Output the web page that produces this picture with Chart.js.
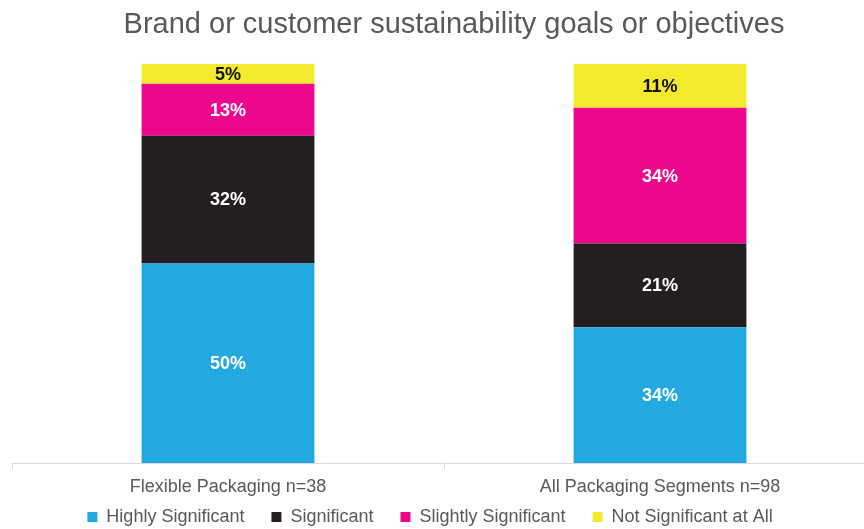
<!DOCTYPE html>
<html>
<head>
<meta charset="utf-8">
<script src="https://cdn.jsdelivr.net/npm/chart.js@4/dist/chart.umd.min.js"></script>
<style>
  html, body { margin: 0; padding: 0; background: #fff; overflow: hidden; }
  /* the axis runs a little past the right edge of the window */
  #wrap { width: 876px; height: 529px; position: relative; }
</style>
</head>
<body>
<div id="wrap"><canvas id="chart"></canvas></div>
<script>
  // Survey answers, percent of respondents per segment
  const segments = ["Flexible Packaging n=38", "All Packaging Segments n=98"];
  const highlySignificant = [50, 34];
  const significant = [32, 21];
  const slightlySignificant = [13, 34];
  const notSignificant = [5, 11];

  const FONT = "'Liberation Sans', Arial, Helvetica, sans-serif";
  const GREY = "#595959";

  // Percent labels in the middle of every stacked segment
  const segmentLabels = {
    id: "segmentLabels",
    afterDatasetsDraw(chart) {
      const ctx = chart.ctx;
      ctx.save();
      ctx.font = "bold 18px " + FONT;
      ctx.textAlign = "center";
      ctx.textBaseline = "middle";
      chart.data.datasets.forEach((ds, i) => {
        const meta = chart.getDatasetMeta(i);
        meta.data.forEach((bar, j) => {
          const c = bar.getCenterPoint();
          ctx.fillStyle = ds.labelColor;
          ctx.fillText(ds.data[j] + "%", c.x, c.y + 1);
        });
      });
      ctx.restore();
    },
  };

  // Title sits a little right of centre, legend a little left.
  // The x axis is squeezed during fit so the bars reach further down;
  // give its box the room back so the category labels are not clipped.
  const nudge = {
    id: "nudge",
    afterLayout(chart) {
      chart.titleBlock.left += 10;
      chart.titleBlock.right += 10;
      chart.legend.left -= 14;
      chart.legend.right -= 14;
      const x = chart.scales.x;
      x.height = 40;
      x.bottom = x.top + 40;
    },
  };

  new Chart(document.getElementById("chart"), {
    type: "bar",
    data: {
      labels: segments,
      datasets: [
        { label: "Highly Significant", data: highlySignificant, backgroundColor: "#22a9e1", labelColor: "#ffffff" },
        { label: "Significant", data: significant, backgroundColor: "#231f20", labelColor: "#ffffff" },
        { label: "Slightly Significant", data: slightlySignificant, backgroundColor: "#ec078c", labelColor: "#ffffff" },
        { label: "Not Significant at All", data: notSignificant, backgroundColor: "#f3ea2e", labelColor: "#111111" },
      ],
    },
    options: {
      responsive: true,
      maintainAspectRatio: false,
      animation: false,
      layout: { padding: { left: 12, right: 0, top: 0, bottom: -7 } },
      datasets: { bar: { categoryPercentage: 0.8, barPercentage: 0.5, borderWidth: 0 } },
      plugins: {
        tooltip: { enabled: false },
        title: {
          display: true,
          text: "Brand or customer sustainability goals or objectives",
          color: GREY,
          font: { family: FONT, size: 29, weight: "normal", lineHeight: 1.2 },
          padding: { top: 8, bottom: 21 },
        },
        legend: {
          position: "bottom",
          labels: {
            color: GREY,
            font: { family: FONT, size: 18 },
            boxWidth: 10,
            boxHeight: 10,
            padding: 27,
          },
        },
      },
      scales: {
        x: {
          stacked: true,
          offset: true,
          grid: { offset: true, drawOnChartArea: false, color: "#d9d9d9", tickLength: 6 },
          border: { color: "#d9d9d9", width: 1 },
          ticks: { color: GREY, font: { family: FONT, size: 18 }, padding: 7, maxRotation: 0 },
          afterFit(scale) { scale.height = 18; },
        },
        y: {
          stacked: true,
          display: false,
          min: 0,
          max: 100,
        },
      },
    },
    plugins: [segmentLabels, nudge],
  });
</script>
</body>
</html>
